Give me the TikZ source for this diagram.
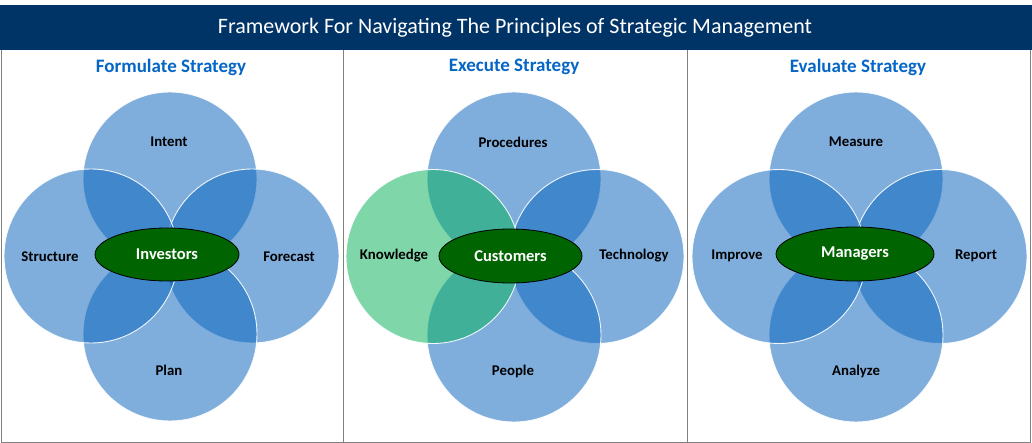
\documentclass[tikz,border=0pt]{standalone}
\usepackage{fontspec}
\setmainfont{Carlito}
\definecolor{navy}{RGB}{0,51,102}
\definecolor{ttlblue}{RGB}{5,102,198}
\definecolor{cblue}{RGB}{10,100,190}
\definecolor{cgreen}{RGB}{10,178,92}
\definecolor{dgreen}{RGB}{0,100,0}
\definecolor{pgray}{RGB}{128,128,128}
\tikzset{
  petal/.style={draw=white, line width=0.9pt, fill=cblue, fill opacity=0.52, draw opacity=0.9, x radius=87, y radius=87},
  gpetal/.style={petal, fill=cgreen},
  lbl/.style={font=\fontsize{14.8}{17}\selectfont\bfseries, text=black},
  hubtxt/.style={font=\fontsize{16.5}{19}\selectfont\bfseries, text=white},
  ptitle/.style={font=\fontsize{19}{22}\selectfont\bfseries, text=ttlblue},
  frame/.style={draw=pgray, line width=0.8pt}
}
\begin{document}
\begin{tikzpicture}[x=1pt,y=-1pt]
\useasboundingbox (0,0) rectangle (1032,443);
\fill[white] (0,0) rectangle (1032,443);
% title bar
\fill[navy] (0,5) rectangle (1032,50);
\node[text=white, font=\fontsize{22}{26}\selectfont] (title) at (515,27.5) {Framework For Navigating The Principles of Strategic Management};
% panel frames
\draw[frame] (1,50) -- (1,442) -- (1030,442) -- (1030,50);
\draw[frame] (343,50) -- (343,442);
\draw[frame] (687,50) -- (687,442);
% panel titles
\node[ptitle] (t1) at (171,67) {Formulate Strategy};
\node[ptitle] (t2) at (514,67) {Execute Strategy};
\node[ptitle] (t3) at (858,67) {Evaluate Strategy};
% panel 1
\path[petal] (170,179) ellipse [];
\path[petal] (252,256) ellipse [];
\path[petal] (170,334) ellipse [];
\path[petal] (91,256) ellipse [];
\draw[fill=dgreen, line width=0.8pt] (167,254.5) ellipse [x radius=72, y radius=26.5];
\node[lbl] (a1) at (169,142) {Intent};
\node[lbl] (a2) at (50,257) {Structure};
\node[lbl] (a3) at (289,257) {Forecast};
\node[lbl] (a4) at (169,370) {Plan};
\node[hubtxt] (h1) at (167,254.5) {Investors};
% panel 2
\path[petal] (514,179) ellipse [];
\path[petal] (597,256.5) ellipse [];
\path[petal] (514,335) ellipse [];
\path[gpetal] (433,256.5) ellipse [];
\draw[fill=dgreen, line width=0.8pt] (510.5,256) ellipse [x radius=71.5, y radius=27];
\node[lbl] (b1) at (513,142) {Procedures};
\node[lbl] (b2) at (394,256) {Knowledge};
\node[lbl] (b3) at (634,256) {Technology};
\node[lbl] (b4) at (513,371) {People};
\node[hubtxt] (h2) at (510.5,256) {Customers};
% panel 3
\path[petal] (856,179) ellipse [];
\path[petal] (940,256.5) ellipse [];
\path[petal] (856,335) ellipse [];
\path[petal] (779,256.5) ellipse [];
\draw[fill=dgreen, line width=0.8pt] (855,254) ellipse [x radius=79, y radius=27];
\node[lbl] (c1) at (856,142) {Measure};
\node[lbl] (c2) at (737,256) {Improve};
\node[lbl] (c3) at (976,256) {Report};
\node[lbl] (c4) at (856,371) {Analyze};
\node[hubtxt] (h3) at (855,254) {Managers};
\end{tikzpicture}
\end{document}
